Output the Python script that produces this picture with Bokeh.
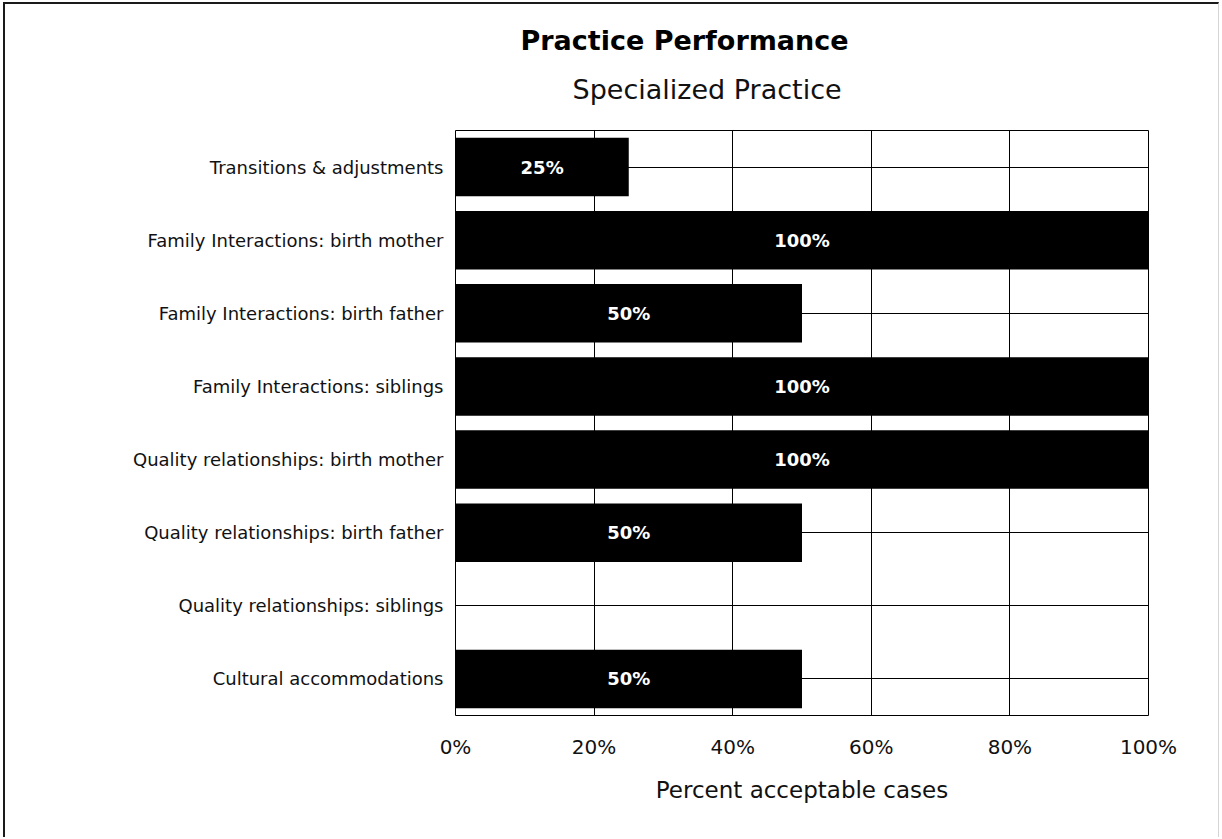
from bokeh.plotting import figure
from bokeh.models import FactorRange, Range1d, FixedTicker, ColumnDataSource, Title
from bokeh.core.properties import value
from bokeh.embed import file_html
from bokeh.resources import INLINE

# Practice areas, listed top to bottom
categories = [
    "Transitions & adjustments",
    "Family Interactions: birth mother",
    "Family Interactions: birth father",
    "Family Interactions: siblings",
    "Quality relationships: birth mother",
    "Quality relationships: birth father",
    "Quality relationships: siblings",
    "Cultural accommodations",
]
# Percent acceptable cases per area
percent_acceptable = [25, 100, 50, 100, 100, 50, 0, 50]
x_ticks = [0, 20, 40, 60, 80, 100]

title_text = "Practice Performance"
subtitle_text = "Specialized Practice"
x_label = "Percent acceptable cases"

FONT = "DejaVu Sans"

source = ColumnDataSource(dict(
    cat=categories,
    val=percent_acceptable,
    mid=[v / 2 for v in percent_acceptable],
    lbl=[f"{v}%" if v > 0 else "" for v in percent_acceptable],
))

p = figure(
    width=1216, height=835,
    y_range=FactorRange(factors=list(reversed(categories))),
    x_range=Range1d(0, 100),
    output_backend="svg", toolbar_location=None,
    min_border_left=450, min_border_right=73,
    min_border_top=126, min_border_bottom=124,
    background_fill_color="white", border_fill_color="white",
)
p.styles = {
    "margin-left": "3px", "margin-top": "2px",
    "border-left": "2px solid #1a1a1a", "border-top": "2px solid #1a1a1a",
    "border-right": "1px solid #d4d4d4",
}
p.outline_line_color = "black"
p.outline_line_width = 1

p.hbar(y="cat", right="val", left=0, height=0.8, source=source,
       fill_color="black", line_color=None)

p.text(x="mid", y="cat", text="lbl", source=source,
       text_color="white", text_font=value(FONT), text_font_style="bold",
       text_font_size="18px", text_align="center", text_baseline="middle")

# Grid lines
p.xgrid.ticker = FixedTicker(ticks=x_ticks)
p.xgrid.grid_line_color = "black"
p.xgrid.grid_line_width = 1
p.ygrid.grid_line_color = "black"
p.ygrid.grid_line_width = 1

# X axis
xa = p.xaxis[0]
xa.ticker = FixedTicker(ticks=x_ticks)
xa.major_label_overrides = {t: f"{t}%" for t in x_ticks}
xa.axis_line_color = None
xa.major_tick_line_color = None
xa.minor_tick_line_color = None
xa.major_tick_out = 0
xa.major_label_standoff = 19
xa.major_label_text_font = FONT
xa.major_label_text_font_size = "20px"
xa.major_label_text_color = "#111111"
xa.axis_label = x_label
xa.axis_label_text_font = FONT
xa.axis_label_text_font_size = "23px"
xa.axis_label_text_font_style = "normal"
xa.axis_label_text_color = "#111111"
xa.axis_label_standoff = 15

# Y axis
ya = p.yaxis[0]
ya.axis_line_color = None
ya.major_tick_line_color = None
ya.major_tick_out = 0
ya.major_label_standoff = 12
ya.major_label_text_font = FONT
ya.major_label_text_font_size = "18px"
ya.major_label_text_color = "#111111"

# Titles: the first one added sits nearest the plot
p.add_layout(Title(text=subtitle_text, align="left", offset=117,
                   text_font=FONT, text_font_size="27px",
                   text_font_style="normal", text_color="#111111",
                   standoff=51), "above")
p.add_layout(Title(text=title_text, align="left", offset=65,
                   text_font=FONT, text_font_size="27px",
                   text_font_style="bold", text_color="black",
                   standoff=-18), "above")

open("out.html", "w").write(file_html(p, INLINE))
